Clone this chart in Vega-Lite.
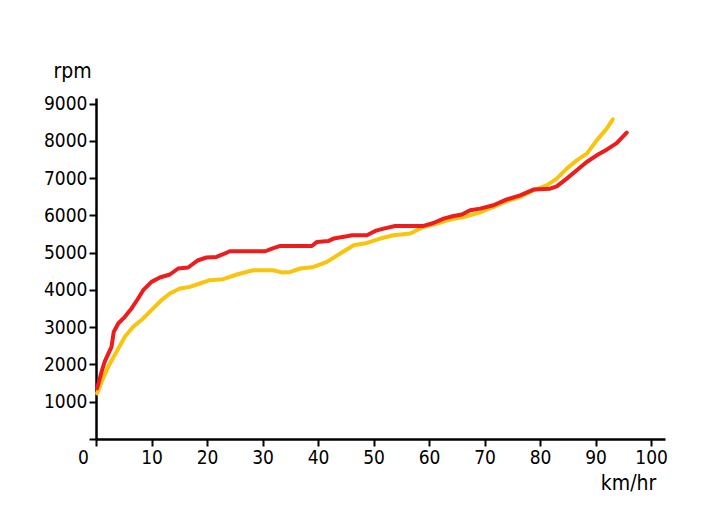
{
  "$schema": "https://vega.github.io/schema/vega-lite/v6.json",
  "autosize": {"type": "none"},
  "padding": {"left": 96, "top": 98, "right": 55, "bottom": 70},
  "width": 569,
  "height": 341,
  "background": "white",
  "config": {
    "view": {"stroke": null},
    "font": "Liberation Sans Narrow, DejaVu Sans Condensed, Open Sans",
    "axis": {
      "domainColor": "black",
      "domainWidth": 2.5,
      "tickColor": "black",
      "tickWidth": 2,
      "tickSize": 7,
      "labelColor": "black",
      "labelFont": "Liberation Sans Narrow, DejaVu Sans Condensed, Open Sans",
      "labelFontSize": 19,
      "titleFont": "Liberation Sans Narrow, DejaVu Sans Condensed, Open Sans",
      "titleFontSize": 21,
      "titleFontWeight": "normal",
      "titleColor": "black",
      "grid": false
    }
  },
  "data": {
    "values": [
      {"series": "yellow", "kmh": 0.2, "rpm": 1225},
      {"series": "yellow", "kmh": 1.2, "rpm": 1600},
      {"series": "yellow", "kmh": 2.2, "rpm": 1937},
      {"series": "yellow", "kmh": 3.7, "rpm": 2340},
      {"series": "yellow", "kmh": 5.2, "rpm": 2742},
      {"series": "yellow", "kmh": 6.7, "rpm": 3010},
      {"series": "yellow", "kmh": 8.5, "rpm": 3235},
      {"series": "yellow", "kmh": 10.3, "rpm": 3503},
      {"series": "yellow", "kmh": 11.8, "rpm": 3725},
      {"series": "yellow", "kmh": 13.3, "rpm": 3905},
      {"series": "yellow", "kmh": 15.1, "rpm": 4039},
      {"series": "yellow", "kmh": 16.9, "rpm": 4082},
      {"series": "yellow", "kmh": 18.7, "rpm": 4173},
      {"series": "yellow", "kmh": 20.5, "rpm": 4261},
      {"series": "yellow", "kmh": 22.9, "rpm": 4288},
      {"series": "yellow", "kmh": 25.4, "rpm": 4414},
      {"series": "yellow", "kmh": 28.3, "rpm": 4529},
      {"series": "yellow", "kmh": 31.9, "rpm": 4529},
      {"series": "yellow", "kmh": 33.5, "rpm": 4470},
      {"series": "yellow", "kmh": 35.0, "rpm": 4484},
      {"series": "yellow", "kmh": 36.8, "rpm": 4575},
      {"series": "yellow", "kmh": 39.2, "rpm": 4618},
      {"series": "yellow", "kmh": 41.6, "rpm": 4752},
      {"series": "yellow", "kmh": 44.0, "rpm": 4977},
      {"series": "yellow", "kmh": 46.4, "rpm": 5199},
      {"series": "yellow", "kmh": 48.8, "rpm": 5261},
      {"series": "yellow", "kmh": 51.2, "rpm": 5379},
      {"series": "yellow", "kmh": 53.6, "rpm": 5467},
      {"series": "yellow", "kmh": 56.6, "rpm": 5512},
      {"series": "yellow", "kmh": 59.0, "rpm": 5690},
      {"series": "yellow", "kmh": 61.4, "rpm": 5781},
      {"series": "yellow", "kmh": 63.8, "rpm": 5888},
      {"series": "yellow", "kmh": 66.2, "rpm": 5958},
      {"series": "yellow", "kmh": 69.2, "rpm": 6080},
      {"series": "yellow", "kmh": 71.6, "rpm": 6226},
      {"series": "yellow", "kmh": 73.9, "rpm": 6378},
      {"series": "yellow", "kmh": 76.4, "rpm": 6494},
      {"series": "yellow", "kmh": 78.8, "rpm": 6673},
      {"series": "yellow", "kmh": 81.2, "rpm": 6807},
      {"series": "yellow", "kmh": 83.0, "rpm": 6986},
      {"series": "yellow", "kmh": 84.8, "rpm": 7254},
      {"series": "yellow", "kmh": 86.6, "rpm": 7477},
      {"series": "yellow", "kmh": 88.4, "rpm": 7656},
      {"series": "yellow", "kmh": 90.2, "rpm": 8013},
      {"series": "yellow", "kmh": 92.0, "rpm": 8327},
      {"series": "yellow", "kmh": 93.1, "rpm": 8576},
      {"series": "red", "kmh": 0.2, "rpm": 1359},
      {"series": "red", "kmh": 1.0, "rpm": 1800},
      {"series": "red", "kmh": 1.6, "rpm": 2090},
      {"series": "red", "kmh": 2.8, "rpm": 2474},
      {"series": "red", "kmh": 3.2, "rpm": 2876},
      {"series": "red", "kmh": 4.0, "rpm": 3100},
      {"series": "red", "kmh": 5.2, "rpm": 3278},
      {"series": "red", "kmh": 6.4, "rpm": 3503},
      {"series": "red", "kmh": 7.5, "rpm": 3750},
      {"series": "red", "kmh": 8.5, "rpm": 3993},
      {"series": "red", "kmh": 10.0, "rpm": 4216},
      {"series": "red", "kmh": 11.5, "rpm": 4333},
      {"series": "red", "kmh": 13.3, "rpm": 4414},
      {"series": "red", "kmh": 14.8, "rpm": 4575},
      {"series": "red", "kmh": 16.6, "rpm": 4602},
      {"series": "red", "kmh": 18.4, "rpm": 4797},
      {"series": "red", "kmh": 19.9, "rpm": 4870},
      {"series": "red", "kmh": 21.7, "rpm": 4886},
      {"series": "red", "kmh": 22.9, "rpm": 4958},
      {"series": "red", "kmh": 24.1, "rpm": 5038},
      {"series": "red", "kmh": 30.5, "rpm": 5038},
      {"series": "red", "kmh": 31.7, "rpm": 5110},
      {"series": "red", "kmh": 33.2, "rpm": 5180},
      {"series": "red", "kmh": 38.9, "rpm": 5180},
      {"series": "red", "kmh": 39.8, "rpm": 5288},
      {"series": "red", "kmh": 41.9, "rpm": 5315},
      {"series": "red", "kmh": 42.8, "rpm": 5378},
      {"series": "red", "kmh": 45.2, "rpm": 5440},
      {"series": "red", "kmh": 46.1, "rpm": 5467},
      {"series": "red", "kmh": 48.8, "rpm": 5467},
      {"series": "red", "kmh": 50.3, "rpm": 5583},
      {"series": "red", "kmh": 51.8, "rpm": 5646},
      {"series": "red", "kmh": 53.9, "rpm": 5717},
      {"series": "red", "kmh": 59.0, "rpm": 5717},
      {"series": "red", "kmh": 60.8, "rpm": 5797},
      {"series": "red", "kmh": 62.6, "rpm": 5915},
      {"series": "red", "kmh": 64.4, "rpm": 5985},
      {"series": "red", "kmh": 65.9, "rpm": 6022},
      {"series": "red", "kmh": 67.4, "rpm": 6137},
      {"series": "red", "kmh": 69.2, "rpm": 6182},
      {"series": "red", "kmh": 71.6, "rpm": 6271},
      {"series": "red", "kmh": 73.9, "rpm": 6424},
      {"series": "red", "kmh": 76.4, "rpm": 6539},
      {"series": "red", "kmh": 78.8, "rpm": 6692},
      {"series": "red", "kmh": 81.8, "rpm": 6718},
      {"series": "red", "kmh": 83.0, "rpm": 6780},
      {"series": "red", "kmh": 84.8, "rpm": 6986},
      {"series": "red", "kmh": 86.6, "rpm": 7209},
      {"series": "red", "kmh": 88.4, "rpm": 7432},
      {"series": "red", "kmh": 90.2, "rpm": 7611},
      {"series": "red", "kmh": 92.0, "rpm": 7764},
      {"series": "red", "kmh": 93.8, "rpm": 7941},
      {"series": "red", "kmh": 95.6, "rpm": 8220}
    ]
  },
  "mark": {"type": "line", "strokeWidth": 4, "strokeJoin": "round", "strokeCap": "round"},
  "encoding": {
    "x": {
      "field": "kmh",
      "type": "quantitative",
      "scale": {"domain": [0, 102.5], "nice": false, "zero": false},
      "axis": {
        "title": "km/hr",
        "values": [0, 10, 20, 30, 40, 50, 60, 70, 80, 90, 100],
        "labelPadding": 2,
        "labelOffset": {"condition": {"test": "datum.value == 0", "value": -13}, "value": 0},
        "labelFlush": false,
        "titleAnchor": "start",
        "titleAlign": "center",
        "titleX": 532,
        "titleY": 50,
        "titleBaseline": "alphabetic"
      }
    },
    "y": {
      "field": "rpm",
      "type": "quantitative",
      "scale": {"domain": [0, 9150], "nice": false, "zero": false},
      "axis": {
        "title": "rpm",
        "values": [0, 1000, 2000, 3000, 4000, 5000, 6000, 7000, 8000, 9000],
        "labelExpr": "datum.value == 0 ? '' : datum.value",
        "labelPadding": 2,
        "labelFlush": false,
        "titleAngle": 0,
        "titleAlign": "center",
        "titleX": -24,
        "titleY": -21,
        "titleBaseline": "alphabetic"
      }
    },
    "color": {
      "field": "series",
      "type": "nominal",
      "scale": {"domain": ["yellow", "red"], "range": ["#f8c40e", "#ee1c1c"]},
      "legend": null
    }
  }
}
